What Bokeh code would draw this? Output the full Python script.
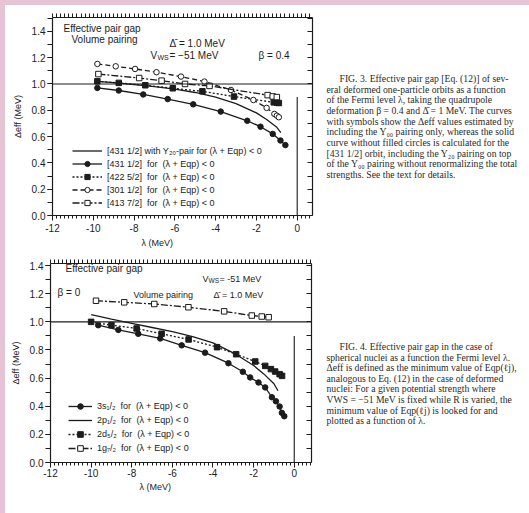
from bokeh.plotting import figure
from bokeh.layouts import column, row
from bokeh.models import (Range1d, LinearAxis, FixedTicker, Span, Label, Legend,
                          LegendItem, Grid, Title)
from bokeh.embed import file_html
from bokeh.resources import INLINE

# ---------------- data : FIG. 3 (deformed, beta = 0.4) ----------------
x_ticks = [-12, -10, -8, -6, -4, -2, 0]
x_tick_labels = ["-12", "-10", "-8", "-6", "-4", "-2", "0"]
y_ticks = [0.0, 0.2, 0.4, 0.6, 0.8, 1.0, 1.2, 1.4]
y_tick_labels = ["0.0", "0.2", "0.4", "0.6", "0.8", "1.0", "1.2", "1.4"]

lam_431_y20 = [-9.8, -9.0, -8.0, -7.0, -6.0, -5.0, -4.0, -3.0, -2.0, -1.5, -1.0, -0.8]
gap_431_y20 = [1.02, 1.01, 0.995, 0.98, 0.96, 0.935, 0.90, 0.85, 0.78, 0.73, 0.67, 0.63]

lam_431 = [-9.8, -8.75, -7.55, -6.35, -5.1, -3.75, -2.45, -1.8, -1.2, -0.82, -0.58]
gap_431 = [0.97, 0.95, 0.92, 0.885, 0.845, 0.79, 0.72, 0.675, 0.62, 0.57, 0.535]

lam_422 = [-9.8, -8.75, -7.45, -6.1, -4.65, -3.1, -1.15, -1.0, -0.9]
gap_422 = [1.02, 1.008, 0.99, 0.967, 0.944, 0.904, 0.86, 0.858, 0.855]

lam_301 = [-9.8, -8.9, -7.95, -6.9, -5.7, -4.55, -3.25, -2.15, -1.5, -1.12, -1.0, -0.9]
gap_301 = [1.152, 1.134, 1.114, 1.089, 1.056, 1.018, 0.954, 0.878, 0.818, 0.772, 0.759, 0.747]

lam_413 = [-9.75, -7.75, -6.65, -5.5, -4.3, -1.45, -1.2, -1.0]
gap_413 = [1.075, 1.045, 1.025, 1.0, 0.985, 0.915, 0.905, 0.90]

# ---------------- data : FIG. 4 (spherical, beta = 0) ----------------
lam_3s = [-9.65, -8.66, -7.68, -6.6, -5.54, -4.39, -3.24, -2.53, -2.17, -1.76,
          -1.43, -1.1, -0.9, -0.72, -0.61, -0.49]
gap_3s = [0.976, 0.943, 0.915, 0.882, 0.833, 0.781, 0.706, 0.645, 0.605, 0.569,
          0.534, 0.464, 0.435, 0.398, 0.353, 0.329]

lam_2p = [-10.0, -9.0, -8.0, -7.0, -6.0, -5.0, -4.0, -3.0, -2.0, -1.5, -1.0, -0.8]
gap_2p = [1.052, 1.02, 0.99, 0.96, 0.93, 0.895, 0.85, 0.78, 0.69, 0.63, 0.56, 0.51]

lam_2d = [-10.0, -9.0, -7.76, -6.53, -5.2, -3.8, -2.86, -1.92, -1.43, -1.15, -0.94, -0.72, -0.6]
gap_2d = [1.0, 0.976, 0.953, 0.915, 0.875, 0.82, 0.77, 0.718, 0.687, 0.664, 0.647, 0.628, 0.616]

lam_1g = [-9.76, -8.37, -6.89, -5.21, -3.45, -2.09, -1.6, -1.26]
gap_1g = [1.15, 1.139, 1.127, 1.104, 1.075, 1.045, 1.038, 1.033]

unit_line = [1.0]          # horizontal reference Delta_eff = 1
zero_line_x = [0.0]        # vertical line at lambda = 0
zero_line_y0 = [0.0]
zero_line_y1 = [0.9]

cap3 = ["FIG. 3. Effective pair gap [Eq. (12)] of sev-",
        "eral deformed one-particle orbits as a function",
        "of the Fermi level λ, taking the quadrupole",
        "deformation β = 0.4 and Δ̄ = 1 MeV. The curves",
        "with symbols show the Δeff values estimated by",
        "including the Y₀₀ pairing only, whereas the solid",
        "curve without filled circles is calculated for the",
        "[431 1/2] orbit, including the Y₂₀ pairing on top",
        "of the Y₀₀ pairing without renormalizing the total",
        "strengths. See the text for details."]
cap4 = ["FIG. 4. Effective pair gap in the case of",
        "spherical nuclei as a function the Fermi level λ.",
        "Δeff is defined as the minimum value of Eqp(ℓj),",
        "analogous to Eq. (12) in the case of deformed",
        "nuclei: For a given potential strength where",
        "VWS = −51 MeV is fixed while R is varied, the",
        "minimum value of Eqp(ℓj) is looked for and",
        "plotted as a function of λ."]

INK = "#1c1c1c"
CAPINK = "#2a2a2a"
PINK = "#e7c4d5"
SANS = "Liberation Sans"
SERIF = "Liberation Serif"
OX, OY = 5, 5          # white page starts at (5, 5)
SPLIT_X = 316          # plots left of this, captions right of it
PAGE_R, PAGE_B = 529, 513
SPLIT_Y = 250


def minor_list(a, b, step):
    n = int(round((b - a) / step))
    return [round(a + i * step, 4) for i in range(n + 1)]


def hide_grid(p):
    for r in p.center:
        if isinstance(r, Grid):
            r.visible = False


def make_fig(w, h, xr, yr, ml, mr, mt, mb, xlabel_off, lab_standoff, title_standoff):
    p = figure(width=w, height=h, x_range=Range1d(*xr), y_range=Range1d(*yr),
               output_backend="svg", toolbar_location=None,
               x_axis_location=None, y_axis_location=None,
               min_border_left=ml, min_border_right=mr,
               min_border_top=mt, min_border_bottom=mb)
    hide_grid(p)
    p.outline_line_color = None
    p.background_fill_color = "white"
    p.border_fill_color = "white"
    xmin = minor_list(-12, 0.8, 0.2)
    ymin = minor_list(0, 1.5, 0.1)
    xo = dict(zip(x_ticks, x_tick_labels))
    yo = dict(zip(y_ticks, y_tick_labels))
    common = dict(axis_line_color=INK, axis_line_width=1.2,
                  major_tick_line_color=INK, minor_tick_line_color=INK,
                  major_label_text_font=SANS, major_label_text_color=INK,
                  major_label_text_font_size="10px")
    below = LinearAxis(ticker=FixedTicker(ticks=x_ticks, minor_ticks=xmin),
                       major_label_overrides=xo, major_tick_out=5, major_tick_in=0,
                       minor_tick_out=3, minor_tick_in=0,
                       major_label_standoff=lab_standoff, **common)
    # top and right frame edges: tick combs only, no labels
    above = LinearAxis(ticker=FixedTicker(ticks=[], minor_ticks=xmin),
                       major_tick_out=0, major_tick_in=0, minor_tick_out=4, minor_tick_in=0,
                       major_label_standoff=0, **common)
    left = LinearAxis(ticker=FixedTicker(ticks=y_ticks, minor_ticks=ymin),
                      major_label_overrides=yo, major_tick_out=5, major_tick_in=0,
                      minor_tick_out=5, minor_tick_in=0, major_label_standoff=2,
                      axis_label="Δeff (MeV)", axis_label_text_font=SANS,
                      axis_label_text_font_size="9px", axis_label_text_font_style="normal",
                      axis_label_text_color=INK, axis_label_standoff=6, **common)
    right = LinearAxis(ticker=FixedTicker(ticks=[], minor_ticks=ymin),
                       major_tick_out=0, major_tick_in=0, minor_tick_out=0, minor_tick_in=5,
                       major_label_standoff=0, **common)
    p.add_layout(below, "below")
    p.add_layout(Title(text="λ (MeV)", align="left", offset=xlabel_off,
                       standoff=title_standoff,
                       text_font=SANS, text_font_size="9px", text_font_style="normal",
                       text_color=INK), "below")
    p.add_layout(above, "above")
    p.add_layout(left, "left")
    p.add_layout(right, "right")
    p.add_layout(Span(location=unit_line[0], dimension="width", line_color=INK, line_width=1.1))
    p.segment(x0=zero_line_x, y0=zero_line_y0, x1=zero_line_x, y1=zero_line_y1,
              line_color=INK, line_width=1.1)
    return p


class Frame:
    def __init__(self, L, R, T, B, xr, yr):
        self.L, self.R, self.T, self.B, self.xr, self.yr = L, R, T, B, xr, yr

    def x(self, px):
        return self.xr[0] + (px - self.L) / (self.R - self.L) * (self.xr[1] - self.xr[0])

    def y(self, py):
        return self.yr[0] + (self.B - py) / (self.B - self.T) * (self.yr[1] - self.yr[0])


def txt(p, fr, px, py, s, size="10px", font=SANS, align="left", color=INK):
    p.add_layout(Label(x=fr.x(px), y=fr.y(py), text=s, text_font=font,
                       text_font_size=size, text_color=color, text_align=align,
                       text_baseline="middle"))


def series(p, xs, ys, dash, marker, fill, lw=1.3):
    r1 = p.line(xs, ys, line_color=INK, line_width=lw, line_dash=dash)
    out = [r1]
    if marker:
        r2 = p.scatter(xs, ys, marker=marker, size=5.5, fill_color=fill, line_color=INK,
                       line_width=1.0)
        out.append(r2)
    return out


def legend(p, items, loc, gw, rowh):
    lg = Legend(items=[LegendItem(label=l, renderers=r) for l, r in items],
                location=loc, glyph_width=gw, glyph_height=rowh, label_height=rowh,
                spacing=0, padding=0, margin=0, border_line_color=None,
                background_fill_alpha=0, label_text_font=SANS, label_text_font_size="9px",
                label_text_color=INK, label_standoff=5)
    p.add_layout(lg)


def caption_fig(top, bottom, T, B, lines, y0, dy):
    # frame spans page rows T..B, same borders as the plot beside it
    c = figure(width=PAGE_R - SPLIT_X, height=bottom - top,
               x_range=Range1d(SPLIT_X, PAGE_R), y_range=Range1d(B, T),
               output_backend="svg", toolbar_location=None,
               x_axis_location=None, y_axis_location=None,
               min_border_left=0, min_border_right=0,
               min_border_top=T - top, min_border_bottom=bottom - B)
    hide_grid(c)
    c.outline_line_color = None
    c.border_fill_color = "white"
    for i, line in enumerate(lines):
        c.add_layout(Label(x=339 if i == 0 else 326, y=y0 + dy * i, text=line,
                           text_font=SERIF, text_font_size="9.7px", text_color=CAPINK,
                           text_align="left", text_baseline="middle"))
    return c


# ---------------- top figure (page coords) ----------------
XR1, YR1 = (-12, 0.75), (0, 1.505)
L1, R1, T1, B1 = 52, 312, 17, 215
p1 = make_fig(SPLIT_X - OX, SPLIT_Y - OY, XR1, YR1,
              L1 - OX, SPLIT_X - R1, T1 - OY, SPLIT_Y - B1, 89, 3, 2)
f1 = Frame(L1, R1, T1, B1, XR1, YR1)

r_y20 = series(p1, lam_431_y20, gap_431_y20, "solid", None, None)
r_431 = series(p1, lam_431, gap_431, "solid", "circle", INK)
r_422 = series(p1, lam_422, gap_422, "2 2", "square", INK)
r_301 = series(p1, lam_301, gap_301, "5 3", "circle", "white")
r_413 = series(p1, lam_413, gap_413, "7 2 2 2", "square", "white")

legend(p1, [("[431 1/2] with Y₂₀-pair for (λ + Eqp) < 0", r_y20),
            ("[431 1/2]  for  (λ + Eqp) < 0", r_431),
            ("[422 5/2]  for  (λ + Eqp) < 0", r_422),
            ("[301 1/2]  for  (λ + Eqp) < 0", r_301),
            ("[413 7/2]  for  (λ + Eqp) < 0", r_413)], (20, 6), 30, 13)

txt(p1, f1, 63, 28, "Effective pair gap")
txt(p1, f1, 71, 39, "Volume pairing")
txt(p1, f1, 169, 43, "Δ̄ = 1.0 MeV")
txt(p1, f1, 150, 55, "V")
txt(p1, f1, 157, 57, "WS", size="7px")
txt(p1, f1, 169, 55, "= −51 MeV")
txt(p1, f1, 258, 55, "β = 0.4")

cap1 = caption_fig(OY, SPLIT_Y, T1, B1, cap3, 78, 10.65)

# ---------------- bottom figure ----------------
XR2, YR2 = (-12, 0.85), (0, 1.415)
L2, R2, T2, B2 = 50, 311, 263, 462
p2 = make_fig(SPLIT_X - OX, PAGE_B - SPLIT_Y, XR2, YR2,
              L2 - OX, SPLIT_X - R2, T2 - SPLIT_Y, PAGE_B - B2, 89, 1, 0)
f2 = Frame(L2, R2, T2, B2, XR2, YR2)

r_3s = series(p2, lam_3s, gap_3s, "solid", "circle", INK)
r_2p = series(p2, lam_2p, gap_2p, "solid", None, None)
r_2d = series(p2, lam_2d, gap_2d, "2 2", "square", INK)
r_1g = series(p2, lam_1g, gap_1g, "7 2 2 2", "square", "white")

legend(p2, [("3s₁/₂  for  (λ + Eqp) < 0", r_3s),
            ("2p₁/₂  for  (λ + Eqp) < 0", r_2p),
            ("2d₅/₂  for  (λ + Eqp) < 0", r_2d),
            ("1g₇/₂  for  (λ + Eqp) < 0", r_1g)], (18, 7), 24, 14)

txt(p2, f2, 65, 268, "Effective pair gap")
txt(p2, f2, 57, 292, "β = 0")
txt(p2, f2, 133, 294, "Volume pairing", size="9px")
txt(p2, f2, 202, 278, "V", size="9px")
txt(p2, f2, 208, 280, "WS", size="6.5px")
txt(p2, f2, 219, 278, "= -51 MeV", size="9px")
txt(p2, f2, 213, 294, "Δ̄ = 1.0 MeV", size="9px")

cap2 = caption_fig(SPLIT_Y, PAGE_B, T2, B2, cap4, 346, 10.6)

inner = column(row(p1, cap1, spacing=0), row(p2, cap2, spacing=0), spacing=0,
               margin=(OY, 0, 0, OX), styles={"background-color": "white"})
page = column(inner, styles={"background-color": PINK})
open("out.html", "w").write(file_html(page, INLINE))
